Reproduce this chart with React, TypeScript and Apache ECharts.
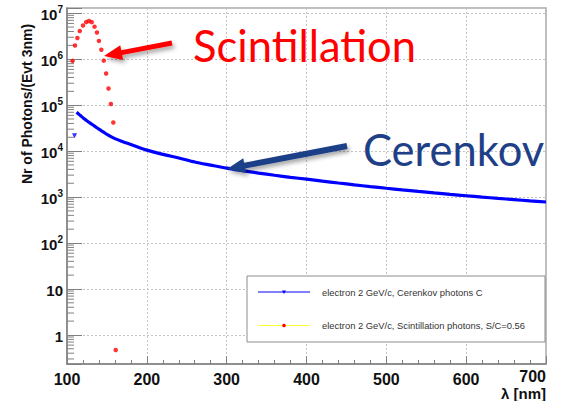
import React, { useEffect, useRef } from "react";
import * as echarts from "echarts";

// ---- data ----
const X_TICKS = [100, 200, 300, 400, 500, 600, 700];
const Y_DECADES = [1, 10, 100, 1000, 10000, 100000, 1000000, 10000000];
const MINOR_MANTISSAS = [2, 3, 4, 5, 6, 7, 8, 9];
const MINOR_EXPONENTS = [-1, 0, 1, 2, 3, 4, 5, 6, 7];

const CER_WL = [112, 115, 118, 121, 124, 127, 130, 135, 140, 145, 150, 160, 170, 180, 190, 200,
  220, 240, 260, 280, 300, 320, 340, 360, 380, 400, 420, 440, 460, 480, 500, 520, 540, 560, 580, 600,
  620, 640, 660, 680, 700];
const CER_VAL = [70000, 63000, 57000, 51500, 47000, 43000, 39500, 34500, 30000, 26500, 23200, 18700, 16000, 13900, 12000, 10500,
  8500, 7100, 5800, 4950, 4250, 3750, 3330, 2980, 2690, 2455, 2222, 2020, 1844, 1689, 1554, 1434, 1327, 1231, 1146, 1069,
  999, 937, 880, 827, 780];
const CER_FIRST_WL = [109.5];
const CER_FIRST_VAL = [21500];

const SCI_WL = [107, 110, 113, 116, 120, 124, 127.5, 131, 134.5, 137.5, 140, 143, 146, 149, 152, 155, 158, 161];
const SCI_VAL = [9.2e5, 1.98e6, 2.9e6, 4.1e6, 5.4e6, 6.4e6, 6.8e6, 6.4e6, 5.1e6, 3.8e6, 2.5e6, 1.6e6, 9.3e5, 4.9e5, 2.3e5, 1.06e5, 4.2e4, 0.47];

const LEGEND_CER = "electron 2 GeV/c, Cerenkov photons C";
const LEGEND_SCI = "electron 2 GeV/c, Scintillation photons, S/C=0.56";
const Y_TITLE = "Nr of Photons/(Evt 3nm)";
const X_TITLE = "λ [nm]";

const FONT = "Liberation Sans, Arial, Helvetica, sans-serif";

function arrowPoints(tail: number[], tip: number[], shaftHalf: number, headLen: number, headHalf: number) {
  const dx = tip[0] - tail[0];
  const dy = tip[1] - tail[1];
  const L = Math.sqrt(dx * dx + dy * dy);
  const ux = dx / L, uy = dy / L;
  const nx = -uy, ny = ux;
  const bx = tip[0] - ux * headLen, by = tip[1] - uy * headLen;
  return [
    [tail[0] + nx * shaftHalf, tail[1] + ny * shaftHalf],
    [bx + nx * shaftHalf, by + ny * shaftHalf],
    [bx + nx * headHalf, by + ny * headHalf],
    [tip[0], tip[1]],
    [bx - nx * headHalf, by - ny * headHalf],
    [bx - nx * shaftHalf, by - ny * shaftHalf],
    [tail[0] - nx * shaftHalf, tail[1] - ny * shaftHalf],
  ];
}

export default function App() {
  const ref = useRef<HTMLDivElement>(null);
  useEffect(() => {
    if (!ref.current) return;
    const chart = echarts.init(ref.current, null, { renderer: "svg" });

    const minorTicks: number[][] = [];
    MINOR_EXPONENTS.forEach((e) => MINOR_MANTISSAS.forEach((m) => {
      const v = m * Math.pow(10, e);
      if (v > 0.233 && v < 1.3e7) minorTicks.push([X_TICKS[0], v]);
    }));

    const shadow = { shadowBlur: 4, shadowColor: "rgba(0,0,0,0.35)", shadowOffsetX: 2, shadowOffsetY: 3 };
    const xMax = X_TICKS[X_TICKS.length - 1];

    const option: any = {
      animation: false,
      backgroundColor: "#ffffff",
      grid: { left: 67, right: 20, top: 8, bottom: 37, show: true, borderColor: "#a8a8a8", borderWidth: 1.5, containLabel: false, outerBoundsMode: "none" },
      xAxis: {
        type: "value",
        min: X_TICKS[0],
        max: xMax,
        interval: 100,
        axisLine: { show: true, lineStyle: { color: "#808080", width: 1.5 } },
        axisTick: { show: true, inside: true, length: 8, lineStyle: { color: "#808080", width: 1 } },
        minorTick: { show: true, splitNumber: 5, length: 4, lineStyle: { color: "#808080", width: 1 } },
        splitLine: { show: true, lineStyle: { color: "#c4c4c4", type: [2, 2], width: 1 } },
        axisLabel: { margin: 7, color: "#111", fontFamily: FONT, fontWeight: "bold", fontSize: 16, showMaxLabel: false },
      },
      yAxis: {
        type: "log",
        logBase: 10,
        min: 0.233,
        max: 1.3e7,
        splitNumber: 8,
        axisLine: { show: true, lineStyle: { color: "#808080", width: 1.5 } },
        axisTick: { show: true, inside: true, length: 15, lineStyle: { color: "#808080", width: 1 } },
        splitLine: { show: true, lineStyle: { color: "#c4c4c4", type: [2, 2], width: 1 } },
        axisLabel: {
          margin: 4,
          color: "#111",
          fontFamily: FONT,
          fontWeight: "bold",
          fontSize: 15,
          formatter: (v: number) => {
            const lg = Math.log10(v);
            const e = Math.round(lg);
            if (Math.abs(lg - e) > 1e-6) return "";
            if (Y_DECADES.indexOf(Math.pow(10, e)) < 0 && e > 1) return "";
            if (e === 0) return "{b|1}";
            if (e === 1) return "{b|10}";
            return "{b|10}{s|" + e + "}";
          },
          rich: {
            b: { fontFamily: FONT, fontWeight: "bold", fontSize: 15, color: "#111", lineHeight: 18, verticalAlign: "bottom" },
            s: { fontFamily: FONT, fontWeight: "bold", fontSize: 10, color: "#111", lineHeight: 10, verticalAlign: "top" },
          },
        },
      },
      series: [
        {
          type: "custom",
          silent: true,
          z: 1,
          data: minorTicks,
          renderItem: (params: any, api: any) => {
            const p = api.coord([api.value(0), api.value(1)]);
            return { type: "line", shape: { x1: p[0], y1: p[1], x2: p[0] + 7, y2: p[1] }, style: { stroke: "#808080", lineWidth: 1 } };
          },
        },
        {
          name: LEGEND_CER,
          type: "line",
          data: CER_WL.map((w, i) => [w, CER_VAL[i]]),
          showSymbol: false,
          smooth: 0.3,
          lineStyle: { color: "#0000ff", width: 3.2 },
          z: 3,
        },
        {
          name: LEGEND_CER + " first",
          type: "scatter",
          data: CER_FIRST_WL.map((w, i) => [w, CER_FIRST_VAL[i]]),
          symbol: "triangle",
          symbolRotate: 180,
          symbolSize: 5,
          itemStyle: { color: "#0000ff" },
          z: 3,
        },
        {
          name: LEGEND_SCI,
          type: "scatter",
          data: SCI_WL.map((w, i) => [w, SCI_VAL[i]]),
          symbol: "circle",
          symbolSize: 4.5,
          itemStyle: { color: "#ff0000" },
          z: 4,
        },
      ],
      graphic: [
        {
          type: "text", x: 27, y: 104, rotation: Math.PI / 2, z: 100,
          style: { text: Y_TITLE, fontFamily: FONT, fontWeight: "bold", fontSize: 14, fill: "#111", textAlign: "center", textVerticalAlign: "middle" },
        },
        {
          type: "text", x: 546, y: 376, z: 100,
          style: { text: String(xMax), fontFamily: FONT, fontWeight: "bold", fontSize: 16, fill: "#111", textAlign: "right", textVerticalAlign: "middle" },
        },
        {
          type: "text", x: 546, y: 393.5, z: 100,
          style: { text: X_TITLE, fontFamily: FONT, fontWeight: "bold", fontSize: 15, fill: "#111", textAlign: "right", textVerticalAlign: "middle" },
        },
        // legend box
        { type: "rect", z: 100, shape: { x: 247, y: 276, width: 298, height: 66 }, style: { fill: "#ffffff", stroke: "#8c8c8c", lineWidth: 1 } },
        { type: "line", z: 101, shape: { x1: 258, y1: 292, x2: 310, y2: 292 }, style: { stroke: "#0000ff", lineWidth: 1.2 } },
        { type: "polygon", z: 102, shape: { points: [[282, 290.5], [286, 290.5], [284, 294]] }, style: { fill: "#0000ff" } },
        { type: "text", z: 101, x: 322, y: 292, style: { text: LEGEND_CER, fontFamily: FONT, fontSize: 9.4, fill: "#333", textAlign: "left", textVerticalAlign: "middle" } },
        { type: "line", z: 101, shape: { x1: 258, y1: 325.5, x2: 310, y2: 325.5 }, style: { stroke: "#ffff33", lineWidth: 1.2 } },
        { type: "circle", z: 102, shape: { cx: 284, cy: 325.5, r: 1.8 }, style: { fill: "#ff0000" } },
        { type: "text", z: 101, x: 322, y: 325.5, style: { text: LEGEND_SCI, fontFamily: FONT, fontSize: 9.4, fill: "#333", textAlign: "left", textVerticalAlign: "middle" } },
        // annotations
        { type: "polygon", z: 110, shape: { points: arrowPoints([172, 43], [104, 56], 2.5, 18, 7.5) }, style: { fill: "#ff0000", ...shadow } },
        { type: "text", z: 110, x: 193, y: 45, style: { text: "Scintillation", fontFamily: "Lato, Carlito, sans-serif", fontSize: 43.5, fill: "#ff0000", textAlign: "left", textVerticalAlign: "middle" } },
        { type: "polygon", z: 110, shape: { points: arrowPoints([347, 146], [227, 169], 3, 18, 7.5) }, style: { fill: "#1f3f87", ...shadow } },
        { type: "text", z: 110, x: 363, y: 149, style: { text: "Cerenkov", fontFamily: "Lato, Carlito, sans-serif", fontSize: 43.5, fill: "#1f3f87", textAlign: "left", textVerticalAlign: "middle" } },
      ],
    };
    chart.setOption(option);
    return () => chart.dispose();
  }, []);
  return <div ref={ref} style={{ position: "fixed", left: 0, top: 0, width: 566, height: 401 }} />;
}
